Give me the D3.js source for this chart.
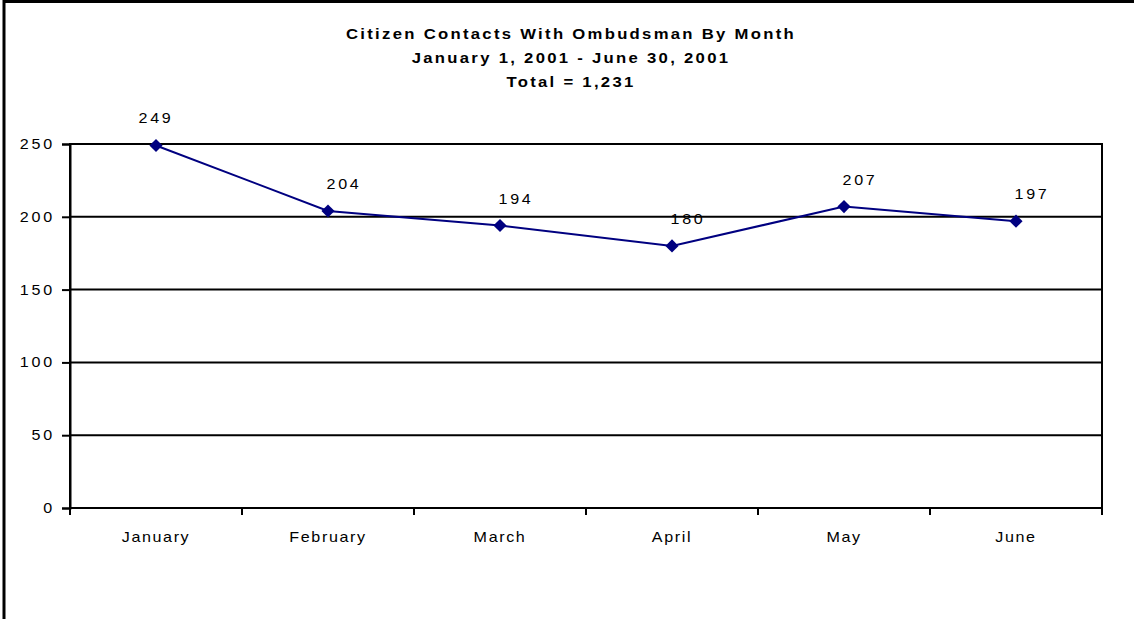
<!DOCTYPE html>
<meta charset="utf-8">
<style>
    body { margin: 0; background: #fff; }
    text { font-family: "Liberation Sans", Arial, sans-serif; fill: #000; }
</style>
<body>
    <div id="chart"></div>

    <script src="https://d3js.org/d3.v7.min.js"></script>

    <script>
        // data
        var months = ['January', 'February', 'March', 'April', 'May', 'June']
        var contacts = [249, 204, 194, 180, 207, 197]
        var yTicks = [0, 50, 100, 150, 200, 250]
        var titleLines = [
            'Citizen Contacts With Ombudsman By Month',
            'January 1, 2001 - June 30, 2001',
            'Total = 1,231'
        ]

        var W = 1134, H = 619
        var margin = { top: 144, right: 32, bottom: 111, left: 70 }
        var width = W - margin.left - margin.right
        var height = H - margin.top - margin.bottom
        var stretch = 1.15 // the original text is a bit wide

        // place a text with a small horizontal stretch
        function place(sel, fx, fy) {
            sel.attr('x', 0).attr('y', 0)
                .attr('transform', function (d, i) {
                    return 'translate(' + fx(d, i) + ',' + fy(d, i) + ') scale(' + stretch + ',1)'
                })
        }

        var svg = d3.select('#chart')
            .append('svg')
            .attr('width', W)
            .attr('height', H)

        // outer frame (only top and left edges show)
        svg.append('line')
            .attr('x1', 3).attr('x2', W).attr('y1', 1.5).attr('y2', 1.5)
            .style('stroke', '#000').style('stroke-width', 3)
        svg.append('line')
            .attr('x1', 4).attr('x2', 4).attr('y1', 0).attr('y2', H)
            .style('stroke', '#000').style('stroke-width', 3)

        // title
        svg.append('g').selectAll('text')
            .data(titleLines)
            .enter().append('text')
            .attr('text-anchor', 'middle')
            .style('font-size', '14.5px')
            .style('font-weight', 'bold')
            .style('letter-spacing', '2px')
            .text(function (d) { return d })
            .call(place, function () { return 571 }, function (d, i) { return 39 + i * 24 })

        var g = svg.append('g')
            .attr('transform', 'translate(' + margin.left + ',' + margin.top + ')')

        var x = d3.scaleBand()
            .domain(months)
            .range([0, width])
        var y = d3.scaleLinear()
            .domain([0, 250])
            .range([height, 0])

        // gridlines
        g.append('g').selectAll('line')
            .data(yTicks.filter(function (d) { return d > 0 }))
            .enter().append('line')
            .attr('x1', 0).attr('x2', width)
            .attr('y1', function (d) { return y(d) })
            .attr('y2', function (d) { return y(d) })
            .style('stroke', '#000')
            .style('stroke-width', 2)

        // plot frame
        g.append('rect')
            .attr('width', width)
            .attr('height', height)
            .style('fill', 'none')
            .style('stroke', '#000')
            .style('stroke-width', 2)

        // y axis
        var yAxis = d3.axisLeft(y)
            .tickValues(yTicks)
            .tickSize(8)
            .tickFormat('')
        var gy = g.append('g').call(yAxis)
        gy.select('.domain').style('stroke-width', 2)
        gy.selectAll('.tick line').style('stroke-width', 2)
        g.append('g').selectAll('text')
            .data(yTicks)
            .enter().append('text')
            .attr('text-anchor', 'end')
            .attr('dy', '0.36em')
            .style('font-size', '14px')
            .style('letter-spacing', '2.4px')
            .text(function (d) { return d })
            .call(place, function () { return -15 }, function (d) { return y(d) })

        // x axis: ticks on band edges
        var gx = g.append('g').attr('transform', 'translate(0,' + height + ')')
        gx.append('line')
            .attr('x1', 0).attr('x2', width)
            .style('stroke', '#000').style('stroke-width', 2)
        gx.selectAll('line.tk')
            .data(months.concat(['end']))
            .enter().append('line')
            .attr('class', 'tk')
            .attr('x1', function (d, i) { return i * x.step() })
            .attr('x2', function (d, i) { return i * x.step() })
            .attr('y1', 0).attr('y2', 7)
            .style('stroke', '#000').style('stroke-width', 2)
        gx.selectAll('text')
            .data(months)
            .enter().append('text')
            .attr('text-anchor', 'middle')
            .style('font-size', '14px')
            .style('letter-spacing', '1.4px')
            .text(function (d) { return d })
            .call(place, function (d) { return x(d) + x.bandwidth() / 2 }, function () { return 34 })

        // series
        var pts = months.map(function (m, i) {
            return { m: m, v: contacts[i], cx: x(m) + x.bandwidth() / 2, cy: y(contacts[i]) }
        })

        g.append('path')
            .datum(pts)
            .attr('d', d3.line().x(function (d) { return d.cx }).y(function (d) { return d.cy }))
            .style('fill', 'none')
            .style('stroke', '#000080')
            .style('stroke-width', 2)

        g.selectAll('path.mk')
            .data(pts)
            .enter().append('path')
            .attr('class', 'mk')
            .attr('d', d3.symbol().type(d3.symbolDiamond2).size(110))
            .attr('transform', function (d) { return 'translate(' + d.cx + ',' + d.cy + ')' })
            .style('fill', '#000080')

        g.selectAll('text.lbl')
            .data(pts)
            .enter().append('text')
            .attr('class', 'lbl')
            .attr('text-anchor', 'middle')
            .style('font-size', '14px')
            .style('letter-spacing', '2.4px')
            .text(function (d) { return d.v })
            .call(place, function (d, i) { return d.cx + (i === 0 ? 0 : 16) }, function (d) { return d.cy - 22 })
    </script>

</body>
